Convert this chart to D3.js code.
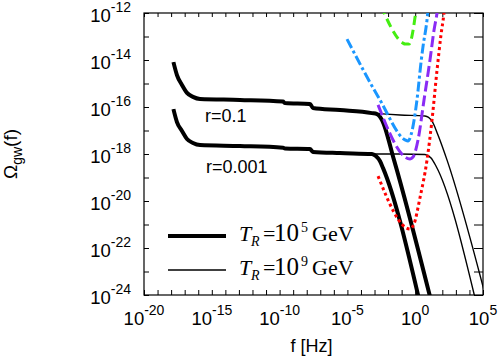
<!DOCTYPE html>
<html lang="en">
<head>
  <meta charset="UTF-8">
  <title>Omega_gw(f)</title>
  <style>
    body { margin: 0; background: #fff; }
    svg { font-family: "Liberation Sans", Arial, Helvetica, sans-serif; }
    .axis path { display: none; }
    .axis line { stroke: #000; stroke-width: 1; }
    .curve { fill: none; stroke-linejoin: round; }
  </style>
</head>
<body>
  <svg width="498" height="358"></svg>
  <script src="https://cdn.jsdelivr.net/npm/d3@7"></script>
  <script>
    // values, as log10 f [Hz] and log10 Omega_gw
    var xLabelExp = [-20, -15, -10, -5, 0, 5]
    var yLabelExp = [-12, -14, -16, -18, -20, -22, -24]

    // T_R = 1e5 GeV (thick), r = 0.1
    var thickHiF = [-17.83, -17.57, -17.20, -16.83, -16.39, -15.87, -12.92, -9.75, -9.60, -7.76, -7.54, -5.55, -3.19, -2.82, -2.45, -1.56, 1.15]
    var thickHiO = [-14.09, -14.64, -15.06, -15.40, -15.57, -15.66, -15.70, -15.77, -15.83, -15.87, -16.04, -16.13, -16.26, -16.30, -16.55, -18.26, -24.2]
    // T_R = 1e9 GeV (thin), r = 0.1
    var thinHiF = [-17.83, -17.57, -17.20, -16.83, -16.39, -15.87, -12.92, -9.75, -9.60, -7.76, -7.54, -5.55, -3.19, -1.12, 0.72, 1.24, 1.68, 2.35, 5.05]
    var thinHiO = [-14.09, -14.64, -15.06, -15.40, -15.57, -15.66, -15.70, -15.77, -15.83, -15.87, -16.04, -16.13, -16.26, -16.34, -16.38, -16.60, -17.19, -18.26, -23.75]
    // T_R = 1e5 GeV (thick), r = 0.001
    var thickLoF = [-17.83, -17.57, -17.20, -16.83, -16.39, -15.87, -12.92, -9.75, -9.60, -7.76, -7.54, -5.55, -3.19, -2.90, -2.60, -2.37, 0.25]
    var thickLoO = [-16.09, -16.64, -17.02, -17.36, -17.53, -17.62, -17.66, -17.73, -17.77, -17.79, -17.91, -17.96, -18.00, -18.09, -18.30, -18.60, -24.1]
    // T_R = 1e9 GeV (thin), r = 0.001
    var thinLoF = [-17.83, -17.57, -17.20, -16.83, -16.39, -15.87, -12.92, -9.75, -9.60, -7.76, -7.54, -5.55, -3.19, -1.12, 0.72, 1.17, 1.53, 4.4]
    var thinLoO = [-16.09, -16.64, -17.02, -17.36, -17.53, -17.62, -17.66, -17.73, -17.77, -17.79, -17.91, -17.96, -18.00, -18.00, -18.02, -18.17, -18.51, -24.1]

    // sensitivity curves
    var greenF = [-2.52, -0.90, -0.75, -0.46, 0.10]
    var greenO = [-11.70, -13.28, -13.32, -13.32, -11.70]
    var blueF = [-5.03, -2.60, -0.75, -0.53, -0.31, 0.13, 0.43, 0.57, 0.87, 0.96]
    var blueO = [-13.11, -15.70, -17.40, -17.45, -17.19, -15.70, -14.09, -13.45, -12.30, -11.80]
    var purpleF = [-2.74, -0.38, -0.16, 0.21, 0.65, 1.09, 1.39, 1.61, 1.68]
    var purpleO = [-15.91, -18.21, -18.13, -17.40, -15.70, -14.00, -12.72, -12.00, -11.70]
    var redF = [-2.74, -0.38, -0.09, 0.35, 0.87, 1.24, 1.61, 1.90, 2.12, 2.17]
    var redO = [-18.94, -21.19, -20.98, -19.87, -18.26, -16.55, -14.43, -12.94, -12.00, -11.70]

    var svg = d3.select('svg')
    var plotL = 144, plotR = 483, plotT = 13, plotB = 295

    var x = d3.scaleLog().domain([1e-20, 1e5]).range([plotL, plotR])
    var y = d3.scaleLog().domain([1e-24, 1e-12]).range([plotB, plotT])

    var pow = function(e) { return Math.pow(10, e) }
    var xDecades = d3.range(-20, 6).map(pow)
    var yDecades = d3.range(-24, -11).map(pow)

    // ticks on all four sides, pointing inward
    svg.append('g').attr('class', 'axis')
      .attr('transform', 'translate(0,' + plotB + ')')
      .call(d3.axisBottom(x).tickValues(xDecades).tickSize(-5).tickFormat(''))
    svg.append('g').attr('class', 'axis')
      .attr('transform', 'translate(0,' + plotT + ')')
      .call(d3.axisTop(x).tickValues(xDecades).tickSize(-4).tickFormat(''))
    svg.append('g').attr('class', 'axis')
      .attr('transform', 'translate(' + plotL + ',0)')
      .call(d3.axisLeft(y).tickValues(yDecades).tickSize(-5).tickFormat(''))
    svg.append('g').attr('class', 'axis')
      .attr('transform', 'translate(' + plotR + ',0)')
      .call(d3.axisRight(y).tickValues(yDecades).tickSize(-9).tickFormat(''))

    svg.append('rect')
      .attr('x', plotL).attr('y', plotT)
      .attr('width', plotR - plotL).attr('height', plotB - plotT)
      .attr('fill', 'none').attr('stroke', '#000').attr('stroke-width', 1.2)

    // tick labels 10^n
    var xl = svg.selectAll('.xlab').data(xLabelExp).enter().append('text')
      .attr('class', 'xlab')
      .attr('x', function(d) { return x(pow(d)) })
      .attr('y', plotB + 30)
      .attr('text-anchor', 'middle')
      .attr('font-size', '18.5px')
    xl.append('tspan').text('10')
    xl.append('tspan').attr('dy', -10).attr('font-size', '14px').text(function(d) { return d })

    var yl = svg.selectAll('.ylab').data(yLabelExp).enter().append('text')
      .attr('class', 'ylab')
      .attr('x', 131)
      .attr('y', function(d) { return y(pow(d)) + 9 })
      .attr('text-anchor', 'end')
      .attr('font-size', '18.5px')
    yl.append('tspan').text('10')
    yl.append('tspan').attr('dy', -10).attr('font-size', '14px').text(function(d) { return d })

    // axis titles
    svg.append('text')
      .attr('x', (plotL + plotR) / 2 - 2)
      .attr('y', 352)
      .attr('text-anchor', 'middle')
      .attr('font-size', '18px')
      .text('f [Hz]')

    var yt = svg.append('text')
      .attr('transform', 'translate(17,' + ((plotT + plotB) / 2) + ') rotate(-90)')
      .attr('text-anchor', 'middle')
      .attr('font-size', '19px')
    yt.append('tspan').text('\u03A9')
    yt.append('tspan').attr('dy', 5).attr('font-size', '14px').text('gw')
    yt.append('tspan').attr('dy', -5).text('(f)')

    // curves
    svg.append('clipPath').attr('id', 'plot')
      .append('rect')
      .attr('x', plotL).attr('y', plotT)
      .attr('width', plotR - plotL).attr('height', plotB - plotT)

    var plot = svg.append('g').attr('clip-path', 'url(#plot)')

    var line = d3.line()
      .x(function(d) { return x(pow(d[0])) })
      .y(function(d) { return y(pow(d[1])) })
      .curve(d3.curveMonotoneX)

    function draw(fs, os, color, width, dash) {
      plot.append('path')
        .datum(d3.zip(fs, os))
        .attr('class', 'curve')
        .attr('d', line)
        .attr('stroke', color)
        .attr('stroke-width', width)
        .attr('stroke-dasharray', dash || null)
    }

    draw(thinHiF, thinHiO, '#000', 1.4)
    draw(thinLoF, thinLoO, '#000', 1.4)
    draw(thickHiF, thickHiO, '#000', 4)
    draw(thickLoF, thickLoO, '#000', 4)
    draw(greenF, greenO, '#44ee11', 3, '9,5')
    draw(blueF, blueO, '#1a96ff', 3, '10,3,3,3')
    draw(purpleF, purpleO, '#8a2bf5', 3, '11,4')
    draw(redF, redO, '#ff0000', 3, '3,3')

    // labels on the curves
    svg.append('text').attr('x', 205).attr('y', 122).attr('font-size', '18px').text('r=0.1')
    svg.append('text').attr('x', 206).attr('y', 173).attr('font-size', '18px').text('r=0.001')

    // legend
    var legend = [['5', 241, 4], ['9', 275, 1.4]]
    legend.forEach(function(l) {
      svg.append('line')
        .attr('x1', 168).attr('x2', 226)
        .attr('y1', l[1] - 5).attr('y2', l[1] - 5)
        .attr('stroke', '#000').attr('stroke-width', l[2])
      var t = svg.append('text')
        .attr('y', l[1])
        .attr('font-family', '"Liberation Serif", "Times New Roman", serif')
        .attr('font-size', '22px')
      t.append('tspan').attr('x', 239).attr('font-style', 'italic').text('T')
      t.append('tspan').attr('x', 251).attr('dy', 5).attr('font-size', '14px').attr('font-style', 'italic').text('R')
      t.append('tspan').attr('x', 263).attr('dy', -5).text('=')
      t.append('tspan').attr('x', 274).attr('font-size', '25px').text('10')
      t.append('tspan').attr('x', 301).attr('dy', -9).attr('font-size', '14px').text(l[0])
      t.append('tspan').attr('x', 312).attr('dy', 9).text('GeV')
    })
  </script>
</body>
</html>
